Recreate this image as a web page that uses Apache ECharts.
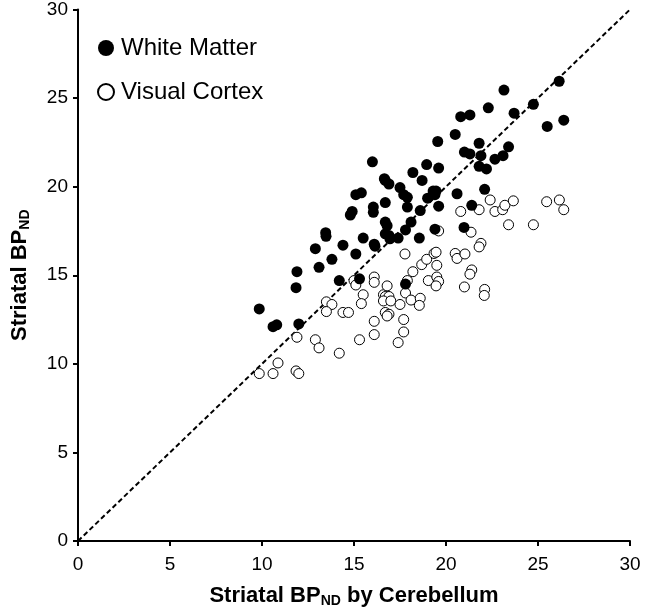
<!DOCTYPE html>
<html>
<head>
<meta charset="utf-8">
<script src="https://cdn.jsdelivr.net/npm/echarts@6/dist/echarts.min.js"></script>
<style>html,body{margin:0;padding:0;background:#fff}#c{width:645px;height:613px}</style>
</head>
<body>
<div id="c"></div>
<script>
const xTicks = [0, 5, 10, 15, 20, 25, 30];
const yTicks = [0, 5, 10, 15, 20, 25, 30];
const seriesNames = ['White Matter', 'Visual Cortex'];
const whiteMatter = [
[9.85,13.1],[10.6,12.1],[10.8,12.2],[12.0,12.25],[11.85,14.3],[11.9,15.2],[13.1,15.45],[12.9,16.5],
[13.46,17.4],[13.48,17.2],[13.8,15.9],[14.4,16.7],[14.2,14.7],[14.8,18.4],[14.9,18.6],[15.1,19.55],
[15.4,19.65],[15.5,17.1],[15.1,16.2],[15.3,14.8],[16.0,21.4],[16.05,18.85],[16.05,18.55],[16.1,16.75],
[16.14,16.64],[16.65,20.45],[16.7,20.35],[16.9,20.15],[16.7,19.1],[16.7,18.0],[16.8,17.8],[16.7,17.34],
[16.9,17.25],[16.95,17.06],[17.4,17.1],[17.5,19.95],[17.7,19.55],[17.9,19.4],[17.9,18.85],[17.8,17.56],
[18.1,18.0],[18.6,18.65],[18.55,17.1],[18.2,20.8],[18.7,20.35],[18.95,21.25],[19.0,19.35],[19.3,19.75],
[19.46,19.75],[19.4,19.55],[19.6,18.9],[19.4,17.6],[19.55,22.55],[19.6,21.05],[20.5,22.95],[20.6,19.6],
[20.8,23.95],[21.3,24.05],[21.0,21.95],[21.3,21.85],[21.4,18.95],[20.98,17.7],[21.8,22.45],[21.9,21.75],
[21.8,21.15],[22.2,21.0],[22.1,19.85],[22.3,24.45],[22.66,21.55],[23.1,21.75],[23.4,22.25],[23.15,25.45],
[23.7,24.15],[24.75,24.65],[25.5,23.4],[26.15,25.95],[26.4,23.75],[17.8,14.5]
];
const visualCortex = [
[9.85,9.45],[10.6,9.45],[10.87,10.05],[11.85,9.6],[12.0,9.45],[11.9,11.5],[12.9,11.36],[13.1,10.9],
[14.2,10.6],[13.5,13.5],[13.8,13.35],[13.5,12.95],[14.4,12.9],[14.7,12.9],[15.0,14.7],[15.1,14.45],
[15.5,13.9],[15.4,13.4],[15.3,11.36],[16.1,14.9],[16.1,14.6],[16.1,12.4],[16.1,11.65],[16.6,13.9],
[16.7,13.8],[16.9,13.8],[16.6,13.55],[17.0,13.55],[16.8,14.4],[16.7,12.9],[16.9,12.8],[16.8,12.7],
[17.4,11.2],[17.7,11.8],[17.7,12.5],[17.5,13.35],[17.8,14.0],[17.9,14.7],[18.1,13.6],[18.6,13.7],
[18.55,13.3],[18.2,15.2],[18.68,15.6],[18.95,15.9],[17.77,16.2],[19.35,16.23],[19.46,16.3],[19.5,15.56],
[19.04,14.7],[19.5,14.9],[19.6,14.65],[19.46,14.4],[19.6,17.5],[20.5,16.23],[20.6,15.95],[21.03,16.2],
[21.4,15.3],[21.3,15.06],[21.0,14.34],[22.1,14.2],[22.08,13.86],[21.9,16.8],[21.8,16.6],[21.36,17.43],
[20.8,18.6],[21.8,18.7],[22.4,19.25],[22.66,18.6],[23.08,18.7],[23.2,18.95],[23.66,19.2],[25.47,19.15],
[26.16,19.25],[26.4,18.7],[23.4,17.85],[24.75,17.85]
];
const identityLine = [[0,0],[30,30]];

const chart = echarts.init(document.getElementById('c'), null, {renderer:'canvas'});
const FONT = 'Liberation Sans, Arial, sans-serif';
const axisCommon = {
  type: 'value', min: xTicks[0], max: xTicks[xTicks.length-1], interval: 5,
  splitLine: {show:false},
  axisLine: {show:true, onZero:false, lineStyle:{color:'#000', width:2}},
  axisTick: {show:true, inside:false, length:5, lineStyle:{color:'#000', width:2}},
  nameLocation: 'middle'
};
chart.setOption({
  animation: false,
  backgroundColor: '#fff',
  grid: {left:78, right:15, top:7, bottom:62, containLabel:false},
  legend: {
    show: true, orient: 'vertical', left: 92, top: 31, itemGap: 20,
    itemWidth: 16, itemHeight: 16, icon: 'circle',
    textStyle: {color:'#000', fontSize:24, fontFamily:FONT, padding:[0,0,0,2]},
    data: seriesNames
  },
  xAxis: Object.assign({}, axisCommon, {
    axisLabel: {color:'#000', fontSize:19, fontFamily:FONT, margin:14},
    name: '{a|Striatal BP}{s|ND}{a| by Cerebellum}', nameGap: 42,
    nameTextStyle: {rich: {
      a: {fontSize:22, fontWeight:'bold', fontFamily:FONT, color:'#000'},
      s: {fontSize:14, fontWeight:'bold', fontFamily:FONT, color:'#000', padding:[11,0,0,0]}
    }}
  }),
  yAxis: Object.assign({}, axisCommon, {
    min: yTicks[0], max: yTicks[yTicks.length-1],
    axisLabel: {color:'#000', fontSize:19, fontFamily:FONT, margin:10},
    name: '{a|Striatal BP}{s|ND}', nameGap: 46,
    nameTextStyle: {rich: {
      a: {fontSize:22, fontWeight:'bold', fontFamily:FONT, color:'#000'},
      s: {fontSize:14, fontWeight:'bold', fontFamily:FONT, color:'#000', padding:[11,0,0,0]}
    }}
  }),
  series: [
    {
      type: 'line', data: identityLine, symbol: 'none', silent: true,
      lineStyle: {color:'#000', width:2, type:[5,3]}, z: 1
    },
    {
      name: seriesNames[0], type: 'scatter', data: whiteMatter, symbol: 'circle', symbolSize: 11,
      itemStyle: {color:'#000', opacity:1}, z: 3
    },
    {
      name: seriesNames[1], type: 'scatter', data: visualCortex, symbol: 'circle', symbolSize: 10,
      itemStyle: {color:'#fff', borderColor:'#000', borderWidth:1, opacity:1}, z: 2
    }
  ]
});
</script>
</body>
</html>
